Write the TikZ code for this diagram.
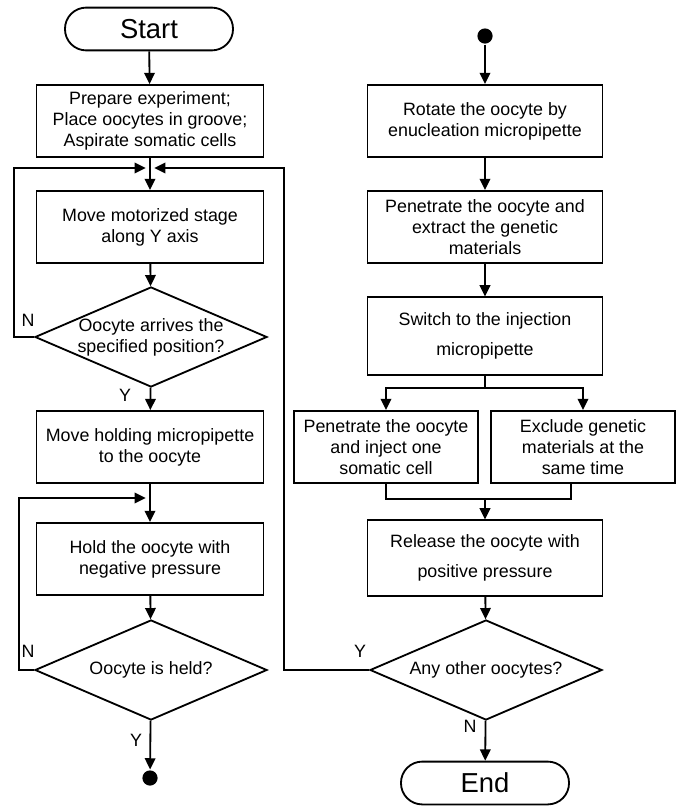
\documentclass[tikz,border=0pt]{standalone}
\usepackage{fontspec}
\setmainfont{Liberation Sans}
\usetikzlibrary{arrows.meta,shapes.geometric,calc}

\begin{document}
\begin{tikzpicture}[x=0.025cm, y=-0.025cm, line width=1.3pt,
  every node/.style={font=\fontsize{12.7}{15}\selectfont},
  proc/.style={draw, rectangle, align=center, minimum height=1.8cm, inner sep=1pt},
  decide/.style={draw, diamond, inner sep=0pt, minimum width=5.8cm, minimum height=2.5cm},
  term/.style={draw, rectangle, rounded corners=0.53cm, minimum width=4.2cm, minimum height=1.07cm, font=\fontsize{19.5}{22}\selectfont},
  dot/.style={circle, fill=black, inner sep=0pt, minimum size=0.38cm},
  arr/.style={-{Triangle[length=8pt,width=7.5pt]}},
  lbl/.style={inner sep=0pt}]
  \useasboundingbox (0,0) rectangle (680,810);

  % left column
  \node[term] (start) at (149,29) {Start};
  \node[proc, minimum width=5.67cm] (prep) at (150,121) {Prepare experiment;\\Place oocytes in groove;\\Aspirate somatic cells};
  \coordinate (j1) at (150,168);
  \node[proc, minimum width=5.67cm] (move) at (150,227) {Move motorized stage\\along Y axis};
  \node[decide, label={[align=center]center:Oocyte arrives the\\specified position?}] (arrive) at (151,337) {};
  \node[proc, minimum width=5.67cm] (hold) at (150,447) {Move holding micropipette\\to the oocyte};
  \coordinate (j2) at (150,498);
  \node[proc, minimum width=5.67cm] (neg) at (150,559) {Hold the oocyte with\\negative pressure};
  \node[decide, label={center:Oocyte is held?}] (held) at (151,670) {};
  \node[dot] (dotA) at (150,778) {};

  % right column
  \node[dot] (dotB) at (485,36) {};
  \node[proc, minimum width=5.87cm] (rot) at (485,121) {Rotate the oocyte by\\enucleation micropipette};
  \node[proc, minimum width=5.87cm] (extr) at (485,227) {Penetrate the oocyte and\\extract the genetic\\materials};
  \node[proc, minimum width=5.87cm, minimum height=1.93cm] (inj) at (485,336) {Switch to the injection\\[6pt]micropipette};
  \coordinate (s1) at (485,388);
  \node[proc, minimum width=4.58cm] (soma) at (386,447) {Penetrate the oocyte\\and inject one\\somatic cell};
  \node[proc, minimum width=4.58cm] (excl) at (583,447) {Exclude genetic\\materials at the\\same time};
  \coordinate (m1) at (485,499);
  \node[proc, minimum width=5.87cm, minimum height=1.88cm] (rel) at (485,558) {Release the oocyte with\\[6pt]positive pressure};
  \node[decide, label={center:Any other oocytes?}] (other) at (486,670) {};
  \node[term] (end) at (485,783) {End};

  % labels
  \node[lbl] (nA) at (28,320) {N};
  \node[lbl] (yA) at (125,395) {Y};
  \node[lbl] (nB) at (28,651) {N};
  \node[lbl] (yB) at (136,740) {Y};
  \node[lbl] (yC) at (360,651) {Y};
  \node[lbl] (nC) at (470,726) {N};

  % connectors
  \draw[arr] (start) -- (prep);
  \draw[arr] (prep) -- (move);
  \draw[arr, shorten >=3pt] (arrive.west) -- (14,337) |- (j1);
  \draw[arr, shorten >=3pt] (other.west) -- (284,670) |- (j1);
  \draw[arr] (move) -- (arrive);
  \draw[arr] (arrive) -- (hold);
  \draw[arr] (hold) -- (neg);
  \draw[arr, shorten >=3pt] (held.west) -- (19,670) |- (j2);
  \draw[arr] (neg) -- (held);
  \draw[arr] (held) -- (dotA);

  \draw[arr] (dotB) -- (rot);
  \draw[arr] (rot) -- (extr);
  \draw[arr] (extr) -- (inj);
  \draw (inj) -- (s1);
  \draw[arr] (s1) -| (soma);
  \draw[arr] (s1) -| (excl);
  \draw (soma) |- (m1);
  \draw ($(excl.south)+(-12,0)$) |- (m1);
  \draw[arr] (m1) -- (rel);
  \draw[arr] (rel) -- (other);
  \draw[arr] (other) -- (end);
\end{tikzpicture}
\end{document}
